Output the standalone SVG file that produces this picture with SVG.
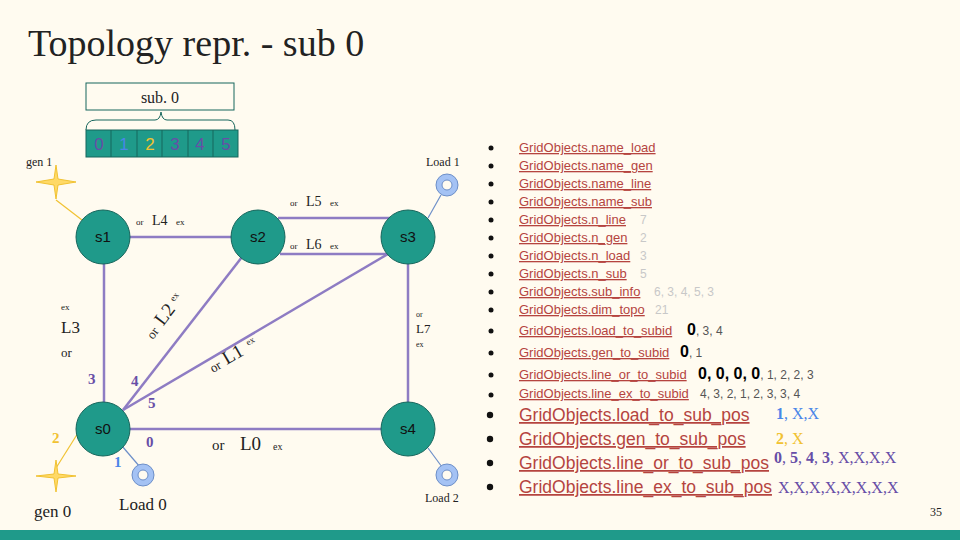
<svg xmlns="http://www.w3.org/2000/svg" width="960" height="540" viewBox="0 0 960 540">
<style>
.serif{font-family:"Liberation Serif","DejaVu Serif",serif}
.sans{font-family:"Liberation Sans",Arial,sans-serif}
.node circle{fill:#1f9a8a;stroke:#17665c;stroke-width:1}
.node text{font-family:"Liberation Sans",Arial,sans-serif;font-size:15px;fill:#111;text-anchor:middle}
.ln{stroke:#8e7cc3;stroke-width:2.5;fill:none}
.lk{font-family:"Liberation Sans",Arial,sans-serif;font-size:13px;fill:#b5443f;text-decoration:underline}
.lkb{font-family:"Liberation Sans",Arial,sans-serif;font-size:17.5px;fill:#b5443f;text-decoration:underline}
.gr{font-family:"Liberation Sans",Arial,sans-serif;font-size:12px;fill:#c8c8c8}
.dk{font-family:"Liberation Sans",Arial,sans-serif;font-size:12px;fill:#555}
.bul{fill:#111}
.pn{font-family:"Liberation Serif",serif;font-weight:bold;fill:#674ea7;font-size:15px}
</style>
<rect width="960" height="540" fill="#fffbf0"/>
<rect y="530" width="960" height="10" fill="#1f9a8a"/>
<text x="28" y="56" class="serif" font-size="38" fill="#222">Topology repr. - sub 0</text>
<text x="930" y="516" class="serif" font-size="12" fill="#222">35</text>

<g id="subbox">
<rect x="86" y="83" width="148" height="27" fill="none" stroke="#17665c"/>
<text x="160" y="103" class="serif" font-size="16" text-anchor="middle" fill="#222">sub. 0</text>
<path d="M86,130 Q86,120 96,120 L155,120 Q160,120 161,112 Q162,120 167,120 L228,120 Q235,120 235,130" fill="none" stroke="#17665c"/>
<rect x="86" y="130" width="152" height="27" fill="#1f9a8a" stroke="#17665c"/>
<g stroke="#17665c"><line x1="111" y1="130" x2="111" y2="157"/><line x1="137" y1="130" x2="137" y2="157"/><line x1="162" y1="130" x2="162" y2="157"/><line x1="188" y1="130" x2="188" y2="157"/><line x1="213" y1="130" x2="213" y2="157"/></g>
<g class="sans" font-size="17" text-anchor="middle">
<text x="99" y="150" fill="#674ea7">0</text><text x="124" y="150" fill="#4a86e8">1</text><text x="150" y="150" fill="#f1c232">2</text><text x="175" y="150" fill="#674ea7">3</text><text x="200" y="150" fill="#674ea7">4</text><text x="226" y="150" fill="#674ea7">5</text>
</g>
</g>

<g id="connectors">
<line class="ln" x1="103" y1="237" x2="258" y2="237"/>
<line class="ln" x1="278" y1="218" x2="390" y2="218"/>
<line class="ln" x1="280" y1="254" x2="390" y2="254"/>
<line class="ln" x1="104" y1="237" x2="104" y2="429"/>
<line class="ln" x1="408" y1="237" x2="408" y2="429"/>
<line class="ln" x1="242" y1="257" x2="123" y2="410"/>
<line class="ln" x1="388" y1="254" x2="123" y2="410"/>
<line class="ln" x1="103" y1="429" x2="408" y2="429"/>
<line x1="82" y1="220" x2="56" y2="200" stroke="#f1c232" stroke-width="1.2"/>
<line x1="78" y1="433" x2="56" y2="468" stroke="#f1c232" stroke-width="1.2"/>
<line x1="122" y1="446" x2="140" y2="467" stroke="#6d8fc8" stroke-width="1.2"/>
<line x1="428" y1="218" x2="441" y2="195" stroke="#6d8fc8" stroke-width="1.2"/>
<line x1="428" y1="448" x2="442" y2="467" stroke="#6d8fc8" stroke-width="1.2"/>
</g>

<g id="labels" class="serif" fill="#222">
<text x="136" y="225" font-size="9">or</text><text x="152" y="225" font-size="14">L4</text><text x="176" y="225" font-size="9">ex</text>
<text x="290" y="206" font-size="9">or</text><text x="306" y="206" font-size="14">L5</text><text x="330" y="206" font-size="9">ex</text>
<text x="290" y="249" font-size="9">or</text><text x="306" y="249" font-size="14">L6</text><text x="330" y="249" font-size="9">ex</text>
<text x="61" y="310" font-size="9">ex</text><text x="61" y="333" font-size="17">L3</text><text x="61" y="357" font-size="13">or</text>
<text x="416" y="317" font-size="8">or</text><text x="416" y="333" font-size="13">L7</text><text x="416" y="347" font-size="8">ex</text>
<g transform="translate(168,320) rotate(-53)"><text x="-25" y="0" font-size="13">or</text><text x="-8" y="0" font-size="19">L2</text><text x="18" y="-6" font-size="9">ex</text></g>
<g transform="translate(232,362) rotate(-30)"><text x="-22" y="0" font-size="13">or</text><text x="-6" y="0" font-size="19">L1</text><text x="22" y="-6" font-size="9">ex</text></g>
<text x="212" y="450" font-size="15">or</text><text x="240" y="450" font-size="19">L0</text><text x="273" y="450" font-size="10">ex</text>
<text class="pn" x="88" y="384">3</text><text class="pn" x="131" y="386">4</text><text class="pn" x="148" y="408">5</text><text class="pn" x="146" y="447">0</text>
<text x="52" y="443" font-weight="bold" font-size="15" fill="#f1c232">2</text>
<text x="114" y="467" font-weight="bold" font-size="15" fill="#4a86e8">1</text>
</g>

<g id="gen1"><path d="M56,98 L58,112 L76,115 L58,118 L56,132 L54,118 L36,115 L54,112Z" transform="translate(0,67)" fill="#ffd966" stroke="#f1c232"/><text x="26" y="166" class="serif" font-size="12" fill="#222">gen 1</text></g>
<g id="gen0"><path d="M56,140 L58,154 L76,156 L58,158 L56,172 L54,158 L36,156 L54,154Z" transform="translate(0,320)" fill="#ffd966" stroke="#f1c232"/><text x="34" y="517" class="serif" font-size="17" fill="#222">gen 0</text></g>
<g id="load1"><circle cx="447" cy="185" r="11" fill="#a4c2f4" stroke="#6d8fc8"/><circle cx="447" cy="185" r="5" fill="#fffbf0" stroke="#6d8fc8"/><text x="426" y="166" class="serif" font-size="12" fill="#222">Load 1</text></g>
<g id="load0"><circle cx="143" cy="475" r="11" fill="#a4c2f4" stroke="#6d8fc8"/><circle cx="143" cy="475" r="5" fill="#fffbf0" stroke="#6d8fc8"/><text x="119" y="510" class="serif" font-size="17" fill="#222">Load 0</text></g>
<g id="load2"><circle cx="447" cy="475" r="11" fill="#a4c2f4" stroke="#6d8fc8"/><circle cx="447" cy="475" r="5" fill="#fffbf0" stroke="#6d8fc8"/><text x="425" y="502" class="serif" font-size="12" fill="#222">Load 2</text></g>

<g id="s1" class="node"><circle cx="103" cy="237" r="27"/><text x="103" y="242">s1</text></g>
<g id="s2" class="node"><circle cx="258" cy="237" r="27"/><text x="258" y="242">s2</text></g>
<g id="s3" class="node"><circle cx="408" cy="237" r="27"/><text x="408" y="242">s3</text></g>
<g id="s0" class="node"><circle cx="103" cy="429" r="27"/><text x="103" y="434">s0</text></g>
<g id="s4" class="node"><circle cx="408" cy="429" r="27"/><text x="408" y="434">s4</text></g>

<g id="list">
<g class="bul"><circle cx="491" cy="148" r="2.5"/><circle cx="491" cy="166" r="2.5"/><circle cx="491" cy="184" r="2.5"/><circle cx="491" cy="202" r="2.5"/><circle cx="491" cy="220" r="2.5"/><circle cx="491" cy="238" r="2.5"/><circle cx="491" cy="256" r="2.5"/><circle cx="491" cy="274" r="2.5"/><circle cx="491" cy="292" r="2.5"/><circle cx="491" cy="310" r="2.5"/><circle cx="491" cy="331" r="2.5"/><circle cx="491" cy="353" r="2.5"/><circle cx="491" cy="375" r="2.5"/><circle cx="491" cy="395" r="2.5"/><circle cx="490" cy="415" r="3.2"/><circle cx="490" cy="439" r="3.2"/><circle cx="490" cy="463" r="3.2"/><circle cx="490" cy="487" r="3.2"/></g>
<text x="519" y="152" class="lk">GridObjects.name_load</text>
<text x="519" y="170" class="lk">GridObjects.name_gen</text>
<text x="519" y="188" class="lk">GridObjects.name_line</text>
<text x="519" y="206" class="lk">GridObjects.name_sub</text>
<text x="519" y="224" class="lk">GridObjects.n_line</text><text x="640" y="224" class="gr">7</text>
<text x="519" y="242" class="lk">GridObjects.n_gen</text><text x="640" y="242" class="gr">2</text>
<text x="519" y="260" class="lk">GridObjects.n_load</text><text x="640" y="260" class="gr">3</text>
<text x="519" y="278" class="lk">GridObjects.n_sub</text><text x="640" y="278" class="gr">5</text>
<text x="519" y="296" class="lk">GridObjects.sub_info</text><text x="654" y="296" class="gr">6, 3, 4, 5, 3</text>
<text x="519" y="314" class="lk">GridObjects.dim_topo</text><text x="655" y="314" class="gr">21</text>
<text x="519" y="335" class="lk">GridObjects.load_to_subid</text><text x="687" y="335" class="dk"><tspan font-weight="bold" font-size="16" fill="#000">0</tspan>, 3, 4</text>
<text x="519" y="357" class="lk">GridObjects.gen_to_subid</text><text x="680" y="357" class="dk"><tspan font-weight="bold" font-size="16" fill="#000">0</tspan>, 1</text>
<text x="519" y="379" class="lk">GridObjects.line_or_to_subid</text><text x="698" y="379" class="dk"><tspan font-weight="bold" font-size="16" fill="#000">0, 0, 0, 0</tspan>, 1, 2, 2, 3</text>
<text x="519" y="398" class="lk">GridObjects.line_ex_to_subid</text><text x="700" y="398" class="dk">4, 3, 2, 1, 2, 3, 3, 4</text>
<text x="519" y="421" class="lkb">GridObjects.load_to_sub_pos</text><text x="776" y="419" class="serif" font-size="16" fill="#4a86e8"><tspan font-weight="bold">1</tspan>, X,X</text>
<text x="519" y="445" class="lkb">GridObjects.gen_to_sub_pos</text><text x="776" y="444" class="serif" font-size="16" fill="#f1c232"><tspan font-weight="bold">2</tspan>, X</text>
<text x="519" y="469" class="lkb">GridObjects.line_or_to_sub_pos</text><text x="774" y="463" class="serif" font-size="16" fill="#674ea7"><tspan font-weight="bold">0</tspan>, <tspan font-weight="bold">5</tspan>, <tspan font-weight="bold">4</tspan>, <tspan font-weight="bold">3</tspan>, X,X,X,X</text>
<text x="519" y="493" class="lkb">GridObjects.line_ex_to_sub_pos</text><text x="778" y="493" class="serif" font-size="16" fill="#674ea7">X,X,X,X,X,X,X,X</text>
</g>
</svg>
